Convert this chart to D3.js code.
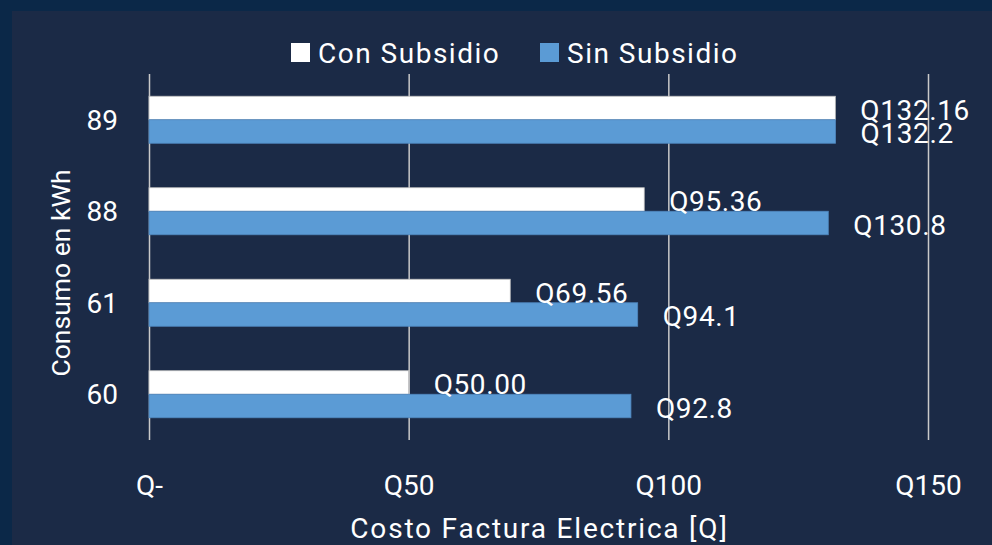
<!DOCTYPE html>
<html>
<head>
<meta charset="utf-8">
<script src="https://cdn.jsdelivr.net/npm/d3@7"></script>
<style>
  html, body { margin: 0; padding: 0; background: #0b2848; }
  svg { display: block; }
  text { font-family: Roboto, "Noto Sans", sans-serif; fill: #ffffff; }
</style>
</head>
<body>
<svg id="chart" width="992" height="545"></svg>
<script>
// ---- data ----
const categories = ["89", "88", "61", "60"];
const seriesNames = ["Con Subsidio", "Sin Subsidio"];
const conSubsidio = [132.16, 95.36, 69.56, 50.00];
const sinSubsidio = [132.2, 130.8, 94.1, 92.8];
const conLabels = ["Q132.16", "Q95.36", "Q69.56", "Q50.00"];
const sinLabels = ["Q132.2", "Q130.8", "Q94.1", "Q92.8"];
const xTicks = [0, 50, 100, 150];
const xTickLabels = ["Q-", "Q50", "Q100", "Q150"];
const xTitle = "Costo Factura Electrica [Q]";
const yTitle = "Consumo en kWh";

// ---- layout ----
const W = 992, H = 545;
const outerColor = "#0b2848";
const innerColor = "#1b2a46";
const colors = ["#ffffff", "#5b9bd5"];
const strokes = ["#bfbfbf", "#4f86bd"];
const plot = { left: 149, right: 928, top: 74, bottom: 440 };
const FS = 28;

const svg = d3.select("#chart");
svg.append("rect").attr("x", 0).attr("y", 0).attr("width", W).attr("height", H).attr("fill", outerColor);
svg.append("rect").attr("x", 12).attr("y", 11).attr("width", W - 12).attr("height", H - 11).attr("fill", innerColor);

const x = d3.scaleLinear().domain([0, 150]).range([plot.left, plot.right]);
const y = d3.scaleBand().domain(categories).range([plot.top, plot.bottom]).paddingInner(0.486).paddingOuter(0.243);
const ySub = d3.scaleBand().domain([0, 1]).range([0, y.bandwidth()]);

// gridlines via axis
const grid = svg.append("g")
  .attr("transform", `translate(0,${plot.bottom})`)
  .call(d3.axisBottom(x).tickValues(xTicks).tickSize(-(plot.bottom - plot.top)).tickFormat(""));
grid.select(".domain").remove();
grid.selectAll(".tick line").attr("stroke", "#c9c9c9").attr("stroke-width", 1.5);

// x tick labels
const xAxis = svg.append("g")
  .attr("transform", `translate(0,${plot.bottom})`)
  .call(d3.axisBottom(x).tickValues(xTicks).tickSize(0).tickPadding(0)
    .tickFormat((d, i) => xTickLabels[i]));
xAxis.select(".domain").remove();
xAxis.selectAll(".tick text")
  .attr("y", 55).attr("dy", null)
  .attr("font-size", FS).attr("fill", "#ffffff")
  .style("font-family", "Roboto, sans-serif");

// y tick labels
const yAxis = svg.append("g")
  .attr("transform", `translate(${plot.left},0)`)
  .call(d3.axisLeft(y).tickSize(0).tickPadding(31));
yAxis.select(".domain").remove();
yAxis.selectAll(".tick text")
  .attr("font-size", FS).attr("fill", "#ffffff")
  .attr("dy", "0.35em")
  .style("font-family", "Roboto, sans-serif");

// bars
const seriesVals = [conSubsidio, sinSubsidio];
const seriesLabels = [conLabels, sinLabels];
seriesVals.forEach((vals, s) => {
  const g = svg.append("g");
  g.selectAll("rect").data(vals).join("rect")
    .attr("x", x(0))
    .attr("y", (d, i) => y(categories[i]) + ySub(s))
    .attr("width", d => x(d) - x(0))
    .attr("height", ySub.bandwidth())
    .attr("fill", colors[s])
    .attr("stroke", strokes[s])
    .attr("stroke-width", 0.8);
});

// value labels
seriesVals.forEach((vals, s) => {
  svg.append("g").selectAll("text").data(vals).join("text")
    .attr("x", d => x(d) + 25)
    .attr("y", (d, i) => y(categories[i]) + ySub(s) + ySub.bandwidth() / 2 + 2)
    .attr("dy", "0.35em")
    .attr("font-size", FS)
    .attr("letter-spacing", 0.6)
    .text((d, i) => seriesLabels[s][i]);
});

// axis titles
svg.append("text")
  .attr("x", (plot.left + plot.right) / 2 + 1).attr("y", 538)
  .attr("text-anchor", "middle").attr("font-size", FS)
  .attr("letter-spacing", 1.8)
  .text(xTitle);
svg.append("text")
  .attr("transform", `translate(70,${273}) rotate(-90)`)
  .attr("text-anchor", "middle").attr("font-size", 26.5)
  .text(yTitle);

// legend
const legend = svg.append("g");
const legendItems = [{ x: 291 }, { x: 540 }];
seriesNames.forEach((name, i) => {
  legend.append("rect")
    .attr("x", legendItems[i].x).attr("y", 43)
    .attr("width", 19).attr("height", 19)
    .attr("fill", colors[i]);
  legend.append("text")
    .attr("x", legendItems[i].x + 27).attr("y", 53)
    .attr("dy", "0.35em").attr("font-size", FS)
    .attr("letter-spacing", 1.5)
    .text(name);
});
</script>
</body>
</html>
